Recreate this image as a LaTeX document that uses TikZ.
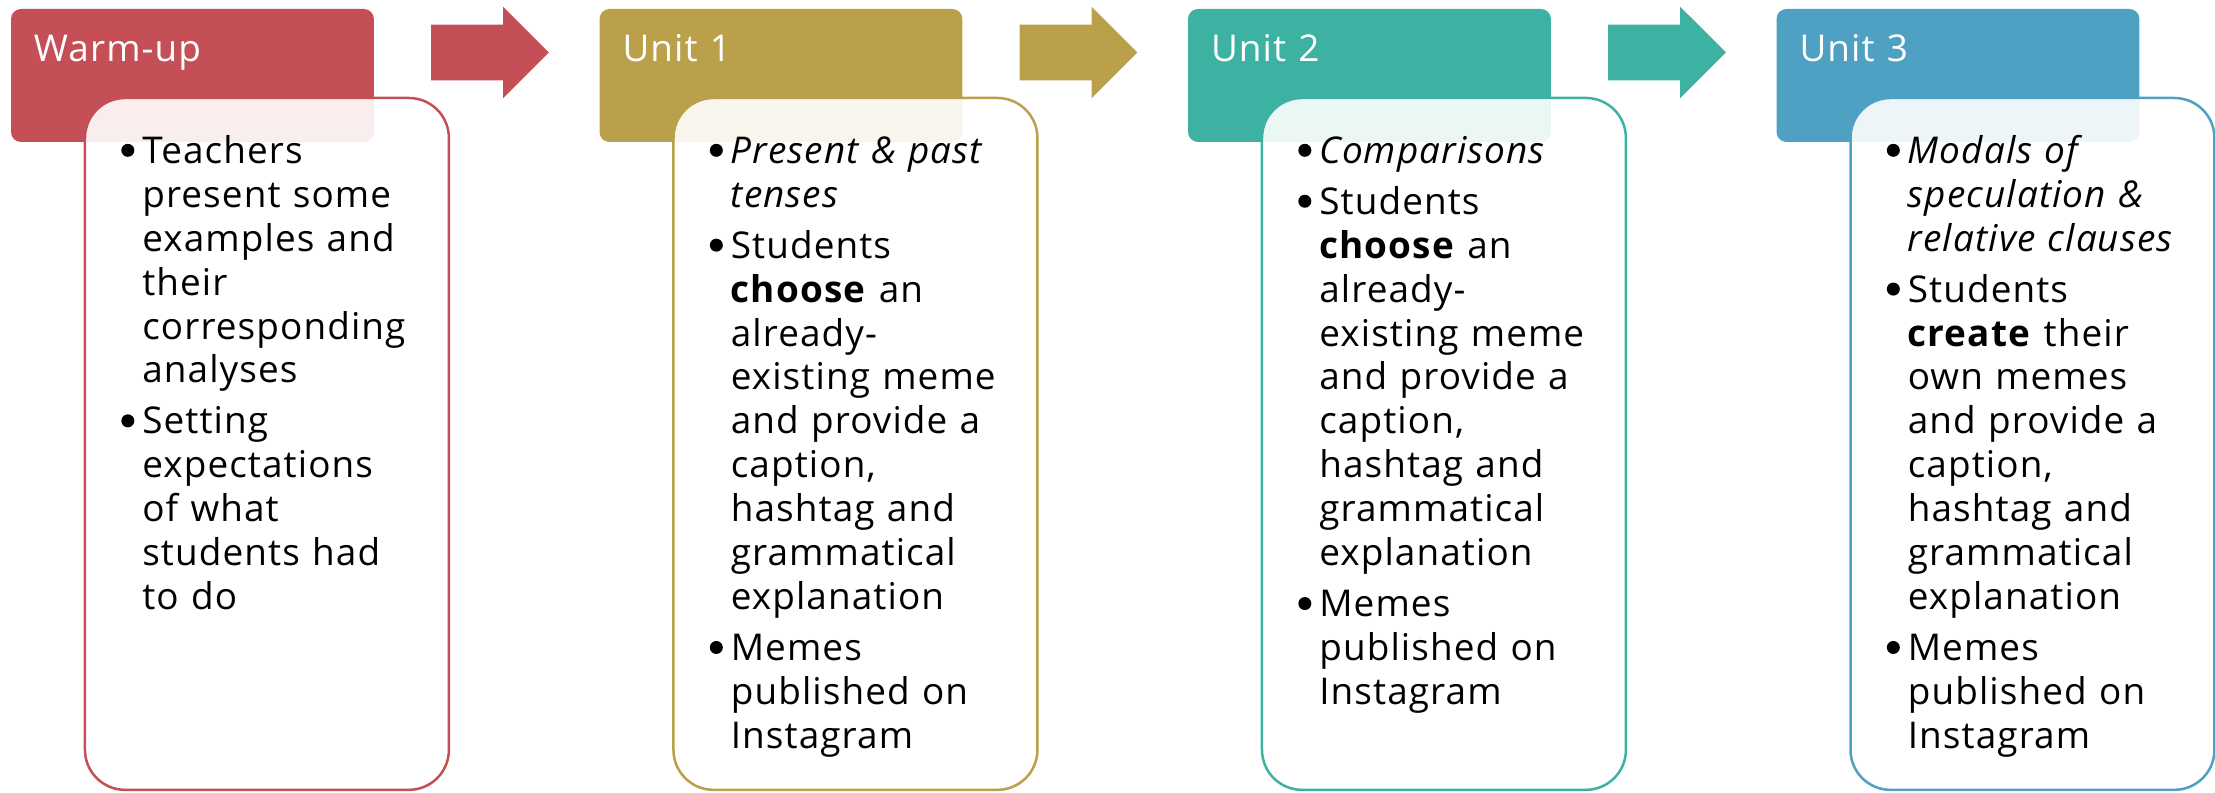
\documentclass[tikz,border=0pt]{standalone}
\usepackage{fontspec}
\setmainfont{Open Sans}[LetterSpace=3]
\usetikzlibrary{positioning,shapes.arrows}

\definecolor{warmred}{HTML}{C44F57}
\definecolor{unitgold}{HTML}{BBA04B}
\definecolor{unitteal}{HTML}{3DB2A2}
\definecolor{unitblue}{HTML}{4FA1C4}

% bullet hung to the left of the first word
\newcommand{\bdot}{\tikz[baseline=0pt]\fill (0,0.26cm) circle (0.13cm);}
\newcommand{\pnt}[1]{\leavevmode\llap{\bdot\hspace{0.16cm}}#1}

\begin{document}
\begin{tikzpicture}[x=0.02cm, y=-0.02cm, every node/.style={font=\fontsize{21pt}{25pt}\selectfont}]
\tikzstyle{header} = [rectangle, rounded corners=0.2cm, anchor=north west, minimum width=7.26cm,
minimum height=2.66cm, inner xsep=0.46cm, inner ysep=0, outer sep=0, text width=6.34cm, align=left,
text height=1.06cm, text depth=1.6cm, text=white]
\tikzstyle{panel} = [rectangle, rounded corners=0.8cm, minimum width=7.28cm, minimum height=13.84cm,
line width=0.05cm, fill=white, fill opacity=0.9, inner sep=0, outer sep=0]
\tikzstyle{points} = [inner sep=0, text width=6.1cm, align=left, text=black]
\tikzstyle{flow} = [single arrow, anchor=tail, minimum height=2.36cm, inner xsep=0, inner ysep=0.55cm,
single arrow head extend=0.36cm, outer sep=0]

\useasboundingbox (0,0) rectangle (2215,793);

% Headers
\node (warm) [header, fill=warmred] at (11,9) {Warm-up};
\node (unit1) [header, fill=unitgold] at (599.5,9) {Unit 1};
\node (unit2) [header, fill=unitteal] at (1188,9) {Unit 2};
\node (unit3) [header, fill=unitblue] at (1776.5,9) {Unit 3};

% Panels
\node (warmbox) [panel, draw=warmred, below right=1.78cm and 1.48cm of warm.north west] {};
\node (unit1box) [panel, draw=unitgold, below right=1.78cm and 1.48cm of unit1.north west] {};
\node (unit2box) [panel, draw=unitteal, below right=1.78cm and 1.48cm of unit2.north west] {};
\node (unit3box) [panel, draw=unitblue, below right=1.78cm and 1.48cm of unit3.north west] {};

% Arrows
\node (arr1) [flow, fill=warmred] at (431,52.5) {};
\node (arr2) [flow, fill=unitgold] at (1019.5,52.5) {};
\node (arr3) [flow, fill=unitteal] at (1608,52.5) {};

% Bullet lists
\node (warmtext) [points, below right=0.7cm and 1.14cm of warmbox.north west]
{\rule{0pt}{0.6cm}\pnt{Teachers}\\ present some\\ examples and\\ their\\ corresponding\\ analyses\\[0.14cm]
\pnt{Setting}\\ expectations\\ of what\\ students had\\ to do};
\node (unit1text) [points, below right=0.7cm and 1.14cm of unit1box.north west]
{\rule{0pt}{0.6cm}\pnt{\textit{Present \& past}}\\ \textit{tenses}\\[0.14cm]
\pnt{Students}\\ \textbf{choose} an\\ already-\\ existing meme\\ and provide a\\ caption,\\ hashtag and\\ grammatical\\ explanation\\[0.14cm]
\pnt{Memes}\\ published on\\ Instagram};
\node (unit2text) [points, below right=0.7cm and 1.14cm of unit2box.north west]
{\rule{0pt}{0.6cm}\pnt{\textit{Comparisons}}\\[0.14cm]
\pnt{Students}\\ \textbf{choose} an\\ already-\\ existing meme\\ and provide a\\ caption,\\ hashtag and\\ grammatical\\ explanation\\[0.14cm]
\pnt{Memes}\\ published on\\ Instagram};
\node (unit3text) [points, below right=0.7cm and 1.14cm of unit3box.north west]
{\rule{0pt}{0.6cm}\pnt{\textit{Modals of}}\\ \textit{speculation \&}\\ \textit{relative clauses}\\[0.14cm]
\pnt{Students}\\ \textbf{create} their\\ own memes\\ and provide a\\ caption,\\ hashtag and\\ grammatical\\ explanation\\[0.14cm]
\pnt{Memes}\\ published on\\ Instagram};
\end{tikzpicture}
\end{document}
